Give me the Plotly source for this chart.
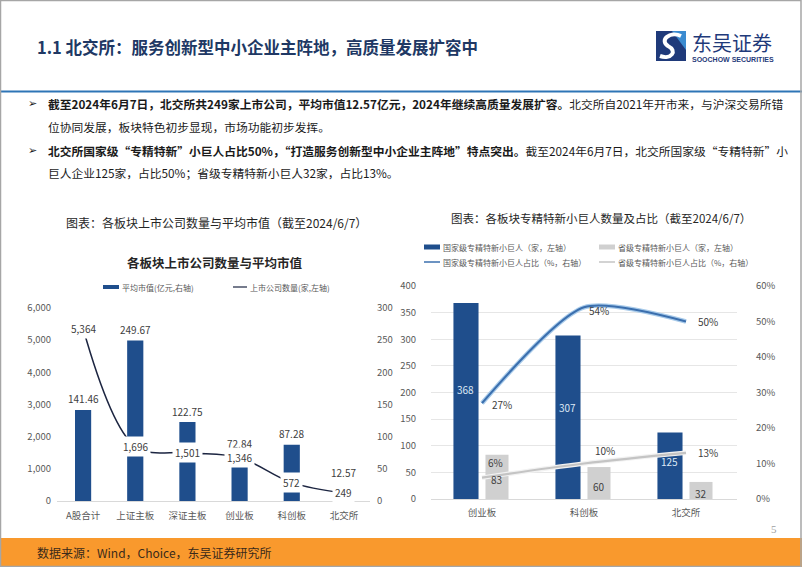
import plotly.graph_objects as go

W, H = 802, 567
FONT = "Noto Sans CJK SC"

# ---------------- data ----------------
boards_l = ["A股合计", "上证主板", "深证主板", "创业板", "科创板", "北交所"]
avg_mv = [141.46, 249.67, 122.75, 72.84, 87.28, 12.57]          # 平均市值(亿元, 右轴)
counts = [5364, 1696, 1501, 1346, 572, 249]                     # 上市公司数量(家, 左轴)

boards_r = ["创业板", "科创板", "北交所"]
nat_cnt = [368, 307, 125]        # 国家级专精特新小巨人(家)
prov_cnt = [83, 60, 32]          # 省级专精特新小巨人(家)
nat_pct = [0.27, 0.54, 0.50]     # 国家级占比
prov_pct = [0.06, 0.10, 0.13]    # 省级占比

left_y_ticks = [0, 1000, 2000, 3000, 4000, 5000, 6000]
right_y_ticks = [0, 50, 100, 150, 200, 250, 300]


def px(x):
    return x / W


def py(y):
    return 1 - y / H


BAR_BLUE = "#1F4E8C"
GRAY_BAR = "#D0D0D0"
TXT = "#404040"

fig = go.Figure()

# left chart
fig.add_trace(go.Bar(x=boards_l, y=avg_mv, xaxis="x", yaxis="y", marker_color=BAR_BLUE,
                     width=0.31, showlegend=False, hoverinfo="skip"))
fig.add_trace(go.Scatter(x=boards_l, y=counts, xaxis="x", yaxis="y2", mode="lines",
                         line=dict(color="#1C2541", width=1.5, shape="spline", smoothing=1.0),
                         showlegend=False, hoverinfo="skip"))

# right chart
fig.add_trace(go.Bar(x=boards_r, y=nat_cnt, xaxis="x2", yaxis="y3", marker_color=BAR_BLUE,
                     width=0.246, offset=-0.28, showlegend=False, hoverinfo="skip"))
fig.add_trace(go.Bar(x=boards_r, y=prov_cnt, xaxis="x2", yaxis="y3", marker_color=GRAY_BAR,
                     width=0.226, offset=0.034, showlegend=False, hoverinfo="skip"))
fig.add_trace(go.Scatter(x=boards_r, y=nat_pct, xaxis="x2", yaxis="y4", mode="lines",
                         line=dict(color="#A9CBEA", width=4.5, shape="spline", smoothing=0.7),
                         showlegend=False, hoverinfo="skip"))
fig.add_trace(go.Scatter(x=boards_r, y=nat_pct, xaxis="x2", yaxis="y4", mode="lines",
                         line=dict(color="#3B6FAE", width=2.2, shape="spline", smoothing=0.7),
                         showlegend=False, hoverinfo="skip"))
fig.add_trace(go.Scatter(x=boards_r, y=prov_pct, xaxis="x2", yaxis="y4", mode="lines",
                         line=dict(color="#F2F2F2", width=4.5, shape="spline", smoothing=1.0),
                         showlegend=False, hoverinfo="skip"))
fig.add_trace(go.Scatter(x=boards_r, y=prov_pct, xaxis="x2", yaxis="y4", mode="lines",
                         line=dict(color="#C4C4C4", width=2.2, shape="spline", smoothing=1.0),
                         showlegend=False, hoverinfo="skip"))

ann = []
shapes = []

# -------- left chart labels --------
for i, v in enumerate(avg_mv):
    ann.append(dict(x=i, y=v, xref="x", yref="y", text=f"{v:.2f}", showarrow=False,
                    yshift=11 if i < len(avg_mv) - 1 else 20,
                    font=dict(size=10, color=TXT, family=FONT)))
for i, v in enumerate(counts):
    ann.append(dict(x=i, y=v, xref="x", yref="y2", text=f"{v:,}", showarrow=False,
                    bgcolor="white", borderpad=2, font=dict(size=10, color=TXT, family=FONT)))

# -------- right chart labels --------
for i, v in enumerate(nat_cnt):
    ann.append(dict(x=i - 0.157, y=v * 0.56, xref="x2", yref="y3", text=str(v), showarrow=False,
                    font=dict(size=10, color="#DCE8F5", family=FONT)))
for i, v in enumerate(prov_cnt):
    ann.append(dict(x=i + 0.147, y=v / 2, xref="x2", yref="y3", text=str(v), showarrow=False,
                    yshift=-3, font=dict(size=10, color=TXT, family=FONT)))
nat_shift = [(8, -1), (15, -3), (10, 0)]
for i, v in enumerate(nat_pct):
    dx, dy = nat_shift[i]
    ann.append(dict(x=i, y=v, xref="x2", yref="y4", text=f"{round(v*100)}%", showarrow=False,
                    xanchor="left" if i != 1 else "center", xshift=dx, yshift=dy,
                    font=dict(size=10, color=TXT, family=FONT)))
prov_shift = [(4, 15), (9, 13), (10, 0)]
for i, v in enumerate(prov_pct):
    dx, dy = prov_shift[i]
    ann.append(dict(x=i, y=v, xref="x2", yref="y4", text=f"{round(v*100)}%", showarrow=False,
                    xanchor="left", xshift=dx, yshift=dy,
                    font=dict(size=10, color=TXT, family=FONT)))

# -------- slide header --------
ann.append(dict(x=px(35), y=py(47), xref="paper", yref="paper", xanchor="left", yanchor="middle",
                text="<b>1.1 北交所：服务创新型中小企业主阵地，高质量发展扩容中</b>", showarrow=False,
                font=dict(size=16.5, color="#203864", family=FONT)))
shapes.append(dict(type="line", xref="paper", yref="paper", x0=0, x1=1, y0=py(91.5), y1=py(91.5),
                   line=dict(color="#2E75B6", width=2)))

# logo
shapes.append(dict(type="rect", xref="paper", yref="paper", x0=px(656), x1=px(686), y0=py(61), y1=py(31),
                   fillcolor="#1F3A7A", line=dict(width=0)))
shapes.append(dict(type="path", xref="paper", yref="paper",
                   path=f"M {px(672)},{py(31)} L {px(686)},{py(31)} L {px(686)},{py(50)} Z",
                   fillcolor="#3B8BD0", line=dict(width=0)))
shapes.append(dict(type="path", xref="paper", yref="paper",
                   path=(f"M {px(681)},{py(36)} C {px(670)},{py(31)} {px(659)},{py(40)} {px(668)},{py(46)} "
                         f"C {px(678)},{py(51)} {px(671)},{py(60)} {px(660)},{py(56)}"),
                   line=dict(color="white", width=4)))
ann.append(dict(x=px(690), y=py(42), xref="paper", yref="paper", xanchor="left", yanchor="middle",
                text="东吴证券", showarrow=False, font=dict(size=20, color="#1F3A7A", family=FONT)))
ann.append(dict(x=px(690), y=py(59.5), xref="paper", yref="paper", xanchor="left", yanchor="middle",
                text="<b>SOOCHOW SECURITIES</b>", showarrow=False,
                font=dict(size=7, color="#1F3A7A", family="Liberation Sans Narrow, Liberation Sans")))

# bullets
bul_lines = [
    (103, "<b>截至2024年6月7日，北交所共249家上市公司，平均市值12.57亿元，2024年继续高质量发展扩容。</b>北交所自2021年开市来，与沪深交易所错"),
    (126, "位协同发展，板块特色初步显现，市场功能初步发挥。"),
    (150, "<b>北交所国家级“专精特新”小巨人占比50%，“打造服务创新型中小企业主阵地”特点突出。</b>截至2024年6月7日，北交所国家级“专精特新”小"),
    (172, "巨人企业125家，占比50%；省级专精特新小巨人32家，占比13%。"),
]
for yy, t in bul_lines:
    ann.append(dict(x=px(46), y=py(yy), xref="paper", yref="paper", xanchor="left", yanchor="middle",
                    text=t, showarrow=False, font=dict(size=11.75, color="#1A1A1A", family=FONT)))
for yy in (103, 150):
    ann.append(dict(x=px(32), y=py(yy), xref="paper", yref="paper", xanchor="center", yanchor="middle",
                    text="➢", showarrow=False, font=dict(size=11, color="#1A1A1A", family="DejaVu Sans")))

# chart titles
ann.append(dict(x=px(216), y=py(222), xref="paper", yref="paper", xanchor="center", yanchor="middle",
                text="图表：各板块上市公司数量与平均市值（截至2024/6/7）", showarrow=False,
                font=dict(size=12, color="#262626", family=FONT)))
ann.append(dict(x=px(601), y=py(218), xref="paper", yref="paper", xanchor="center", yanchor="middle",
                text="图表：各板块专精特新小巨人数量及占比（截至2024/6/7）", showarrow=False,
                font=dict(size=11.5, color="#262626", family=FONT)))
ann.append(dict(x=px(215), y=py(262), xref="paper", yref="paper", xanchor="center", yanchor="middle",
                text="<b>各板块上市公司数量与平均市值</b>", showarrow=False,
                font=dict(size=12.5, color="#262626", family=FONT)))

# left legend
shapes.append(dict(type="rect", xref="paper", yref="paper", x0=px(103), x1=px(119), y0=py(289), y1=py(285),
                   fillcolor=BAR_BLUE, line=dict(width=0)))
ann.append(dict(x=px(120), y=py(287), xref="paper", yref="paper", xanchor="left", yanchor="middle",
                text="平均市值(亿元,右轴)", showarrow=False, font=dict(size=8, color="#595959", family=FONT)))
shapes.append(dict(type="line", xref="paper", yref="paper", x0=px(233), x1=px(247), y0=py(287), y1=py(287),
                   line=dict(color="#1C2541", width=1.2)))
ann.append(dict(x=px(248), y=py(287), xref="paper", yref="paper", xanchor="left", yanchor="middle",
                text="上市公司数量(家,左轴)", showarrow=False, font=dict(size=8, color="#595959", family=FONT)))

# right legend
leg_r = [
    (424, 247, "rect", BAR_BLUE, "国家级专精特新小巨人（家，左轴）"),
    (599, 247, "rect", GRAY_BAR, "省级专精特新小巨人（家，左轴）"),
    (424, 262, "line", "#3B6FAE", "国家级专精特新小巨人占比（%，右轴）"),
    (599, 262, "line", "#C4C4C4", "省级专精特新小巨人占比（%，右轴）"),
]
for x0, yy, kind, col, t in leg_r:
    if kind == "rect":
        shapes.append(dict(type="rect", xref="paper", yref="paper", x0=px(x0), x1=px(x0 + 16),
                           y0=py(yy + 2.5), y1=py(yy - 2.5), fillcolor=col, line=dict(width=0)))
    else:
        shapes.append(dict(type="line", xref="paper", yref="paper", x0=px(x0), x1=px(x0 + 16),
                           y0=py(yy), y1=py(yy), line=dict(color=col, width=1.5)))
    ann.append(dict(x=px(x0 + 17), y=py(yy), xref="paper", yref="paper", xanchor="left", yanchor="middle",
                    text=t, showarrow=False, font=dict(size=8, color="#595959", family=FONT)))

# footer
shapes.append(dict(type="rect", xref="paper", yref="paper", x0=0, x1=1, y0=0, y1=py(538),
                   fillcolor="#F9992D", line=dict(width=0)))
ann.append(dict(x=px(35), y=py(552), xref="paper", yref="paper", xanchor="left", yanchor="middle",
                text="数据来源：Wind，Choice，东吴证券研究所", showarrow=False,
                font=dict(size=12, color="#3A2A1A", family=FONT)))
ann.append(dict(x=px(774), y=py(529), xref="paper", yref="paper", xanchor="center", yanchor="middle",
                text="5", showarrow=False, font=dict(size=11, color="#A0A0A0", family="Liberation Serif")))
# slide border
shapes.append(dict(type="rect", xref="paper", yref="paper", x0=px(0.5), x1=px(801), y0=py(566.5), y1=py(0.5),
                   line=dict(color="#A6A6A6", width=1.5), fillcolor="rgba(0,0,0,0)"))

tickf = dict(size=9.5, color="#595959", family=FONT)
common = dict(automargin=False, fixedrange=True, zeroline=False)

fig.update_layout(
    width=W, height=H, margin=dict(l=0, r=0, t=0, b=0),
    template="none", paper_bgcolor="white", plot_bgcolor="rgba(0,0,0,0)",
    barmode="overlay", showlegend=False,
    font=dict(family=FONT),
    xaxis=dict(domain=[px(57), px(370)], anchor="y", type="category", tickfont=tickf,
               showline=True, linecolor="#D9D9D9", linewidth=1, showgrid=False,
               ticks="outside", ticklen=6, tickcolor="rgba(0,0,0,0)", range=[-0.5, 5.5], **common),
    yaxis=dict(domain=[py(501), py(308)], anchor="x", side="right", range=[0, 300],
               tickvals=right_y_ticks, tickfont=tickf, showgrid=False,
               ticks="outside", ticklen=4, tickcolor="rgba(0,0,0,0)", **common),
    yaxis2=dict(overlaying="y", anchor="x", side="left", range=[0, 6000], tickvals=left_y_ticks,
                tickformat=",", tickfont=tickf, showgrid=False,
                ticks="outside", ticklen=3, tickcolor="rgba(0,0,0,0)", **common),
    xaxis2=dict(domain=[px(431), px(737)], anchor="y3", type="category", tickfont=tickf,
                showline=True, linecolor="#D9D9D9", linewidth=1, showgrid=False,
                ticks="outside", ticklen=5, tickcolor="rgba(0,0,0,0)", range=[-0.5, 2.5], **common),
    yaxis3=dict(domain=[py(499), py(286)], anchor="x2", side="left", range=[0, 400], dtick=50,
                tickfont=tickf, showgrid=True, gridcolor="#E6E6E6", gridwidth=1,
                ticks="outside", ticklen=12, tickcolor="rgba(0,0,0,0)", **common),
    yaxis4=dict(overlaying="y3", anchor="x2", side="right", range=[0, 0.6], dtick=0.1,
                tickformat=".0%", tickfont=tickf, showgrid=False,
                ticks="outside", ticklen=16, tickcolor="rgba(0,0,0,0)", **common),
    annotations=ann, shapes=shapes,
)

fig.write_html("out.html")
